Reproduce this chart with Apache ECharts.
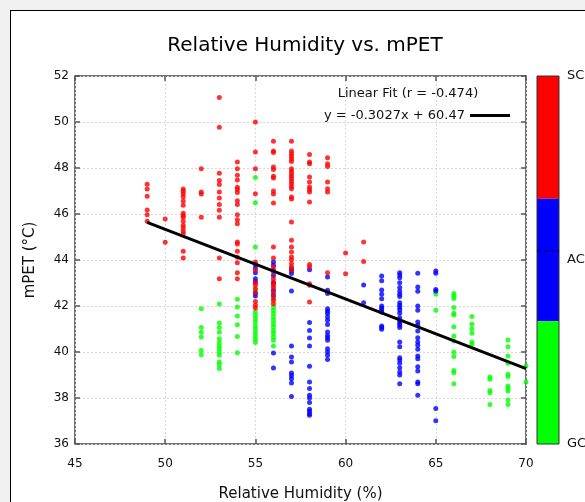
<!DOCTYPE html>
<html>
<head>
<meta charset="utf-8">
<script src="https://cdn.jsdelivr.net/npm/echarts@6/dist/echarts.min.js"></script>
<style>
  html, body { margin: 0; padding: 0; background: #f0f0f0; }
  #panel { position: absolute; left: 10px; top: 10px; width: 600px; height: 520px;
           background: #fff; border-left: 1px solid #000; border-top: 1px solid #000; }
  #chart { position: absolute; left: 0; top: 0; width: 585px; height: 502px; }
</style>
</head>
<body>
<div id="panel"></div>
<div id="chart"></div>
<script>
// humidity columns and mPET values per class
const scRH = [49, 50, 51, 52, 53, 54, 55, 56, 57, 58, 59, 60, 61];
const scMPET = [
  [47.29, 47.09, 46.77, 46.17, 45.97, 45.68],
  [45.78, 44.77],
  [47.09, 46.99, 46.88, 46.75, 46.57, 46.38, 46.03, 45.94, 45.86, 45.68, 45.51, 45.39, 45.25, 45.14, 44.38, 44.09],
  [47.97, 46.96, 46.87, 45.86],
  [51.07, 49.77, 47.77, 47.46, 47.28, 46.96, 46.70, 46.41, 46.16, 45.86, 44.09, 43.19],
  [48.26, 47.97, 47.68, 47.48, 47.16, 47.07, 46.93, 46.58, 46.41, 45.97, 45.75, 45.58, 44.78, 44.70, 44.38, 44.12, 43.88, 43.45, 43.19],
  [50.0, 48.70, 47.97, 46.88, 43.91, 43.55, 43.01, 42.90, 42.75, 42.58, 42.20, 42.03, 41.91],
  [49.16, 48.74, 48.67, 48.04, 47.94, 47.64, 47.57, 47.0, 46.87, 46.48, 44.57, 44.09, 43.70, 43.48, 43.19, 43.04, 42.90, 42.80, 42.61, 42.39, 42.25, 42.10],
  [49.16, 48.74, 48.62, 48.51, 48.39, 48.28, 47.97, 47.86, 47.75, 47.64, 47.54, 47.42, 47.32, 47.20, 47.10, 46.74, 46.65, 45.65, 44.86, 44.57, 44.35, 44.13, 44.01, 43.84, 43.70, 43.55],
  [48.59, 48.26, 48.19, 47.61, 47.39, 47.17, 47.06, 46.96, 46.52, 43.80, 43.70, 42.97, 42.90, 42.17],
  [48.45, 48.19, 48.07, 47.39, 47.10, 46.96, 43.45],
  [44.30, 43.40],
  [44.78, 43.93]
];

const acRH = [55, 56, 57, 58, 59, 61, 62, 63, 64, 65];
const acMPET = [
  [43.80, 43.65, 43.45, 43.19, 43.05, 42.55, 42.43],
  [43.91, 43.77, 43.55, 43.33, 43.0, 42.68, 42.49, 39.96, 39.30],
  [43.62, 43.52, 43.41, 42.65, 40.26, 39.78, 39.57, 39.09, 38.97, 38.84, 38.65, 38.07],
  [43.58, 41.28, 40.94, 40.61, 40.26, 39.38, 38.70, 38.41, 38.12, 38.0, 37.80, 37.51, 37.42, 37.32, 37.25],
  [43.26, 42.68, 42.54, 41.88, 41.77, 41.67, 41.52, 41.38, 41.20, 40.87, 40.72, 40.62, 40.51, 40.14, 40.0, 39.86, 39.67],
  [42.91, 42.14],
  [43.30, 43.10, 42.70, 42.51, 42.32, 42.0, 41.91, 41.83, 41.74, 41.13, 41.06, 40.99],
  [43.45, 43.35, 43.23, 43.01, 42.80, 42.64, 42.51, 42.41, 42.14, 42.03, 41.93, 41.83, 41.68, 41.49, 41.35, 41.25, 41.16, 41.06, 40.43, 40.23, 39.75, 39.65, 39.51, 39.32, 39.13, 39.0, 38.62],
  [43.42, 42.83, 42.64, 42.0, 41.81, 41.30, 41.16, 40.91, 40.62, 40.43, 40.29, 40.12, 39.83, 39.71, 39.36, 39.17, 38.70, 38.62, 38.12],
  [43.52, 43.42, 42.72, 42.65, 37.54, 37.01]
];

const gcRH = [52, 53, 54, 55, 56, 65, 66, 67, 68, 69, 70];
const gcMPET = [
  [41.88, 41.06, 40.86, 40.65, 40.07, 39.88],
  [42.09, 41.26, 41.06, 40.86, 40.58, 40.41, 40.26, 40.14, 40.0, 39.86, 39.57, 39.45, 39.28],
  [42.29, 41.96, 41.57, 41.19, 40.67, 39.97],
  [47.59, 46.49, 44.57, 42.70, 41.74, 41.59, 41.45, 41.30, 41.13, 40.99, 40.84, 40.70, 40.55, 40.41],
  [42.32, 41.96, 41.81, 41.67, 41.52, 41.38, 41.23, 41.09, 40.94, 40.80, 40.65, 40.51, 40.26],
  [42.52, 41.81],
  [42.54, 42.43, 42.33, 41.93, 41.68, 41.61, 41.10, 40.70, 40.48, 40.0, 39.80, 39.20, 39.10, 38.62],
  [41.54, 41.22, 41.01, 40.81, 40.43, 40.33],
  [38.91, 38.81, 38.33, 38.23, 37.72],
  [40.52, 40.23, 39.83, 39.51, 39.03, 38.93, 38.52, 38.42, 38.30, 37.91, 37.72],
  [39.39, 38.70]
];

// linear fit as printed on the chart
const fitSlope = -0.3027;
const fitIntercept = 60.47;
const fitR = -0.474;
const fitRange = [49, 70];

const xTicks = [45, 50, 55, 60, 65, 70];
const yTicks = [36, 38, 40, 42, 44, 46, 48, 50, 52];
const classLabels = ['SC', 'AC', 'GC'];
const classColors = ['#ff0000', '#0000ff', '#00ff00'];

function toPoints(rh, vals) {
  const out = [];
  rh.forEach((x, i) => vals[i].forEach(v => out.push([x, v])));
  return out;
}

const fitData = fitRange.map(x => [x, fitSlope * x + fitIntercept]);

const chart = echarts.init(document.getElementById('chart'));
const FONT = 'DejaVu Sans';

const gridLine = { show: true, lineStyle: { color: '#d8d8d8', type: [2, 2], width: 1 } };
const tick = { show: true, inside: true, length: 5, lineStyle: { color: '#555', width: 1.5 } };

// colorbar
const cbX = 537, cbTop = 76, cbH = 368, cbW = 22;
const cbGraphics = [];
classColors.forEach((c, i) => {
  cbGraphics.push({ type: 'rect', shape: { x: cbX, y: cbTop + i * cbH / 3, width: cbW, height: cbH / 3 },
    style: { fill: c } });
});
cbGraphics.push({ type: 'rect', shape: { x: cbX, y: cbTop, width: cbW, height: cbH },
  style: { fill: 'none', stroke: '#333', lineWidth: 1 } });
cbGraphics.push({ type: 'line', shape: { x1: cbX, y1: 251, x2: cbX + cbW, y2: 251 },
  style: { stroke: '#000', lineWidth: 1, lineDash: [4, 3] } });
const cbLabelY = [cbTop, cbTop + cbH / 2, cbTop + cbH];
classLabels.forEach((t, i) => {
  cbGraphics.push({ type: 'text', x: 567, y: cbLabelY[i],
    style: { text: t, fill: '#111', font: '13px ' + FONT, textVerticalAlign: 'middle' } });
});

chart.setOption({
  animation: false,
  textStyle: { fontFamily: FONT },
  title: {
    text: 'Relative Humidity vs. mPET',
    left: 300, top: 31, textAlign: 'center',
    textStyle: { fontSize: 20, fontWeight: 'normal', color: '#000', fontFamily: FONT }
  },
  legend: {
    data: [{ name: 'y = ' + fitSlope + 'x + ' + fitIntercept, icon: 'rect' }],
    right: 70, top: 104, align: 'right', itemWidth: 40, itemHeight: 3, itemGap: 6,
    textStyle: { fontSize: 13, color: '#111', fontFamily: FONT }
  },
  graphic: [
    { type: 'text', x: 408, y: 94,
      style: { text: 'Linear Fit (r = ' + fitR + ')', fill: '#111', font: '13px ' + FONT,
               textAlign: 'center', textVerticalAlign: 'middle' } }
  ].concat(cbGraphics),
  grid: { left: 75, right: 59, top: 76, bottom: 58, outerBoundsMode: 'none',
          show: true, borderColor: '#444', borderWidth: 1.5 },
  xAxis: [
    {
      type: 'value', min: xTicks[0], max: xTicks[xTicks.length - 1], interval: 5,
      name: 'Relative Humidity (%)', nameLocation: 'middle', nameGap: 43,
      nameTextStyle: { fontSize: 15, color: '#111' },
      axisLine: { show: false }, axisTick: tick, splitLine: gridLine,
      axisLabel: { fontSize: 12, color: '#111', margin: 14 }
    },
    {
      type: 'value', position: 'top', min: xTicks[0], max: xTicks[xTicks.length - 1], interval: 5,
      axisLine: { show: false }, axisTick: tick, splitLine: { show: false }, axisLabel: { show: false }
    }
  ],
  yAxis: [
    {
      type: 'value', min: yTicks[0], max: yTicks[yTicks.length - 1], interval: 2,
      name: 'mPET (°C)', nameLocation: 'middle', nameGap: 37, nameRotate: 90,
      nameTextStyle: { fontSize: 15, color: '#111' },
      axisLine: { show: false }, axisTick: tick, splitLine: gridLine,
      axisLabel: { fontSize: 12, color: '#111', margin: 6 }
    },
    {
      type: 'value', position: 'right', min: yTicks[0], max: yTicks[yTicks.length - 1], interval: 2,
      axisLine: { show: false }, axisTick: tick, splitLine: { show: false }, axisLabel: { show: false }
    }
  ],
  series: [
    { type: 'scatter', name: classLabels[2], data: toPoints(gcRH, gcMPET), symbolSize: 5,
      itemStyle: { color: classColors[2] } },
    { type: 'scatter', name: classLabels[1], data: toPoints(acRH, acMPET), symbolSize: 5,
      itemStyle: { color: classColors[1] } },
    { type: 'scatter', name: classLabels[0], data: toPoints(scRH, scMPET), symbolSize: 5,
      itemStyle: { color: classColors[0] } },
    { type: 'line', name: 'y = ' + fitSlope + 'x + ' + fitIntercept, data: fitData,
      symbol: 'none', lineStyle: { color: '#000', width: 3 }, itemStyle: { color: '#000' } }
  ]
});
</script>
</body>
</html>
